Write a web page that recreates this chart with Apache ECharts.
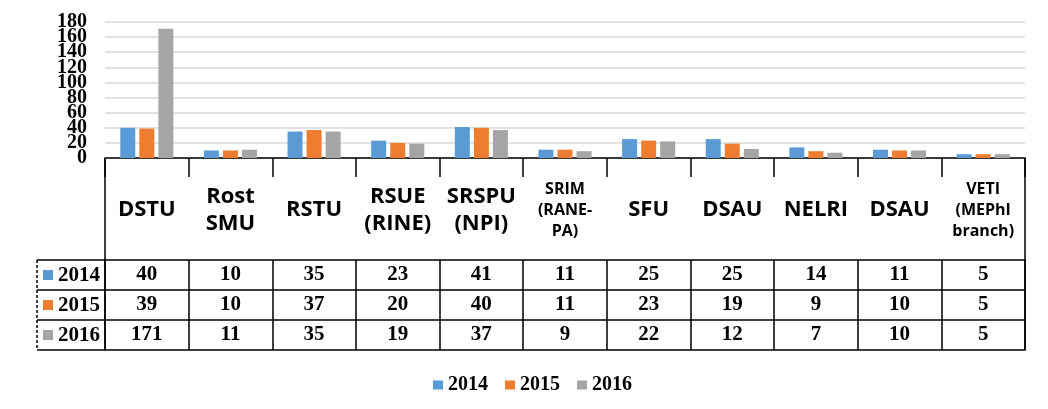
<!DOCTYPE html>
<html>
<head>
<meta charset="utf-8">
<script src="https://cdn.jsdelivr.net/npm/echarts@6/dist/echarts.min.js"></script>
<style>
html,body{margin:0;padding:0;background:#fff;}
#chart{width:1048px;height:409px;}
</style>
</head>
<body>
<div id="chart"></div>
<script>
// ---- data ----
const categories = ['DSTU', 'Rost\nSMU', 'RSTU', 'RSUE\n(RINE)', 'SRSPU\n(NPI)', 'SRIM\n(RANE-\nPA)', 'SFU', 'DSAU', 'NELRI', 'DSAU', 'VETI\n(MEPhI\nbranch)'];
const smallLabels = [5, 10]; // indices of categories drawn in the smaller font
const years = ['2014', '2015', '2016'];
const s2014 = [40, 10, 35, 23, 41, 11, 25, 25, 14, 11, 5];
const s2015 = [39, 10, 37, 20, 40, 11, 23, 19, 9, 10, 5];
const s2016 = [171, 11, 35, 19, 37, 9, 22, 12, 7, 10, 5];
const yTicks = { min: 0, max: 180, interval: 20 };

const colors = ['#5B9BD5', '#ED7D31', '#A5A5A5'];
const seriesData = [s2014, s2015, s2016];

const chart = echarts.init(document.getElementById('chart'));

const GL = 105, GR = 1025, GT = 22, GB = 158;
const ROW0 = 260, ROWH = 30, LEFTCOL = 37;
const serif = 'Liberation Serif';
const sans = 'Open Sans';

const xAxes = [{
  type: 'category',
  data: categories,
  position: 'bottom',
  axisLine: { show: true, onZero: false, lineStyle: { color: '#000', width: 1.5 } },
  axisTick: { show: true, length: 19, lineStyle: { color: '#000', width: 1.5 } },
  axisLabel: {
    interval: 0,
    margin: 52,
    verticalAlign: 'middle',
    color: '#000',
    fontFamily: sans,
    fontWeight: 'bold',
    fontSize: 22,
    lineHeight: 27,
    formatter: function (v, i) {
      if (smallLabels.indexOf(i) >= 0) return '{s|' + v.split('\n').join('}\n{s|') + '}';
      return v;
    },
    rich: { s: { fontFamily: sans, fontWeight: 'bold', fontSize: 16, lineHeight: 21, color: '#000' } }
  },
  splitLine: { show: false }
}];

seriesData.forEach(function (arr, k) {
  xAxes.push({
    type: 'category',
    data: arr.map(String),
    position: 'bottom',
    offset: ROW0 - GB + k * ROWH,
    axisLine: { show: true, onZero: false, lineStyle: { color: '#000', width: 1.5 } },
    axisTick: { show: true, length: ROWH, lineStyle: { color: '#000', width: 1.5 } },
    axisLabel: {
      interval: 0, margin: ROWH / 2, verticalAlign: 'middle',
      color: '#000', fontFamily: serif, fontWeight: 'bold', fontSize: 21
    },
    splitLine: { show: false }
  });
});
xAxes.push({
  type: 'category',
  data: categories,
  position: 'bottom',
  offset: ROW0 - GB + 3 * ROWH,
  axisLine: { show: true, onZero: false, lineStyle: { color: '#000', width: 1.5 } },
  axisTick: { show: false },
  axisLabel: { show: false },
  splitLine: { show: false }
});

const graphics = [
  { type: 'line', shape: { x1: GL, y1: GB, x2: GL, y2: ROW0 + 3 * ROWH }, style: { stroke: '#000', lineWidth: 1.5 } },
  { type: 'line', shape: { x1: GR, y1: GB, x2: GR, y2: ROW0 + 3 * ROWH }, style: { stroke: '#000', lineWidth: 1.5 } },
  { type: 'line', shape: { x1: LEFTCOL, y1: ROW0, x2: LEFTCOL, y2: ROW0 + 3 * ROWH }, style: { stroke: '#000', lineWidth: 1.5, lineDash: [3, 2] } }
];
for (let r = 0; r <= 3; r++) {
  graphics.push({ type: 'line', shape: { x1: LEFTCOL, y1: ROW0 + r * ROWH, x2: GL, y2: ROW0 + r * ROWH }, style: { stroke: '#000', lineWidth: 1.5 } });
}
years.forEach(function (y, k) {
  const cy = ROW0 + k * ROWH + ROWH / 2;
  graphics.push({ type: 'rect', shape: { x: 43, y: cy - 5, width: 10, height: 10 }, style: { fill: colors[k] } });
  graphics.push({ type: 'text', x: 58, y: cy + 1, style: { text: y, fill: '#000', font: 'bold 21px "Liberation Serif"', textVerticalAlign: 'middle', textAlign: 'left' } });
});

// two stacked y axes share the same scale; each prints every other tick label so none get hidden
function yAxisDef(parity, withGrid) {
  return {
    type: 'value',
    position: 'left',
    min: yTicks.min, max: yTicks.max, interval: yTicks.interval,
    axisLine: { show: false, onZero: false },
    axisTick: { show: false },
    axisLabel: {
      margin: 18, color: '#000', fontFamily: serif, fontWeight: 'bold', fontSize: 20,
      showMinLabel: parity === 0, showMaxLabel: parity === 1,
      formatter: function (v) { return (Math.round(v / yTicks.interval) % 2 === parity) ? String(v) : ''; }
    },
    splitLine: { show: withGrid, lineStyle: { color: '#D9D9D9', width: 1.5 } }
  };
}

chart.setOption({
  animation: false,
  color: colors,
  grid: { left: GL, right: 1048 - GR, top: GT, bottom: 409 - GB, containLabel: false },
  legend: {
    data: years,
    left: 428, top: 370,
    icon: 'rect', itemWidth: 10, itemHeight: 9, itemGap: 17,
    textStyle: { fontFamily: serif, fontWeight: 'bold', fontSize: 20, color: '#000', padding: [2, 0, 0, 0] }
  },
  xAxis: xAxes,
  yAxis: [yAxisDef(0, true), yAxisDef(1, false)],
  series: years.map(function (y, k) {
    return { name: y, type: 'bar', xAxisIndex: 0, yAxisIndex: 0, data: seriesData[k], barWidth: 15, barGap: '27%', itemStyle: { color: colors[k] } };
  }),
  graphic: graphics
});
</script>
</body>
</html>
